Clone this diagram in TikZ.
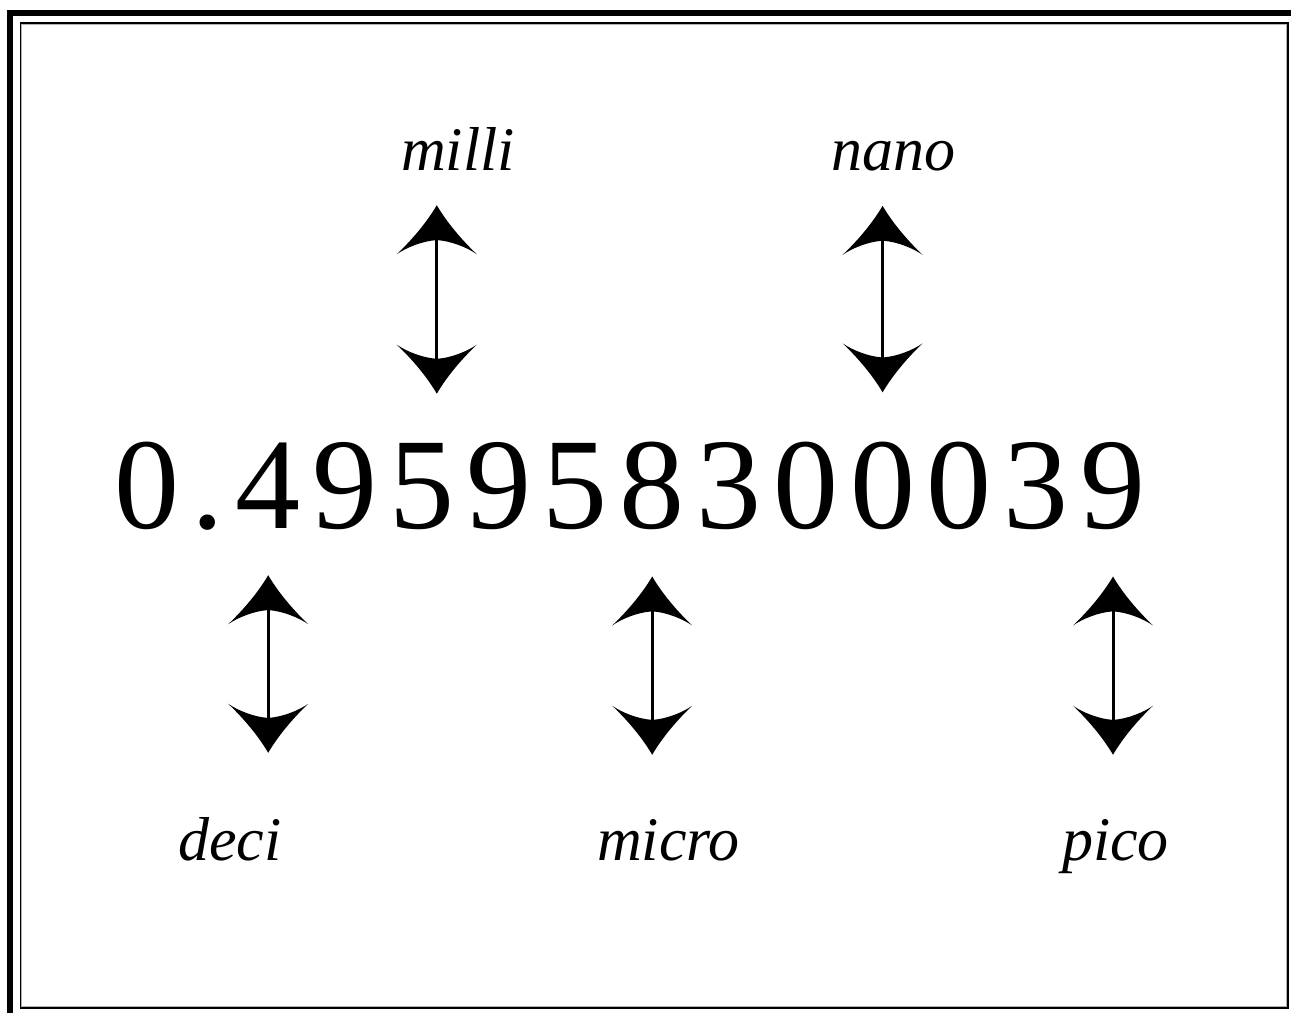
\documentclass[tikz,border=0pt]{standalone}
\usepackage{fontspec}
\setmainfont{Liberation Serif}
\usepackage{tikz}
\usetikzlibrary{positioning}
\usetikzlibrary{arrows.meta}

% curved filled arrow head
\pgfdeclarearrow{
  name = Swoop,
  setup code = {
    \pgfarrowssettipend{0pt}
    \pgfarrowssetlineend{-28pt}
    \pgfarrowssetbackend{-49pt}
  },
  drawing code = {
    \pgfpathmoveto{\pgfpointorigin}
    \pgfpathcurveto{\pgfpoint{-12pt}{7pt}}{\pgfpoint{-30pt}{20pt}}{\pgfpoint{-49pt}{40pt}}
    \pgfpathcurveto{\pgfpoint{-42pt}{30pt}}{\pgfpoint{-36pt}{14pt}}{\pgfpoint{-35pt}{1.5pt}}
    \pgfpathlineto{\pgfpoint{-35pt}{-1.5pt}}
    \pgfpathcurveto{\pgfpoint{-36pt}{-14pt}}{\pgfpoint{-42pt}{-30pt}}{\pgfpoint{-49pt}{-40pt}}
    \pgfpathcurveto{\pgfpoint{-30pt}{-20pt}}{\pgfpoint{-12pt}{-7pt}}{\pgfpointorigin}
    \pgfpathclose
    \pgfusepathqfill
  }
}

\tikzset{digit/.style={anchor=base west,inner sep=0pt,font=\fontsize{130}{130}\selectfont}}
\tikzset{unitname/.style={anchor=base west,inner sep=0pt,font=\fontsize{62}{62}\selectfont\itshape}}
\tikzset{updown/.style={{Swoop}-{Swoop},line width=3pt}}

\begin{document}
\begin{tikzpicture}[x=1pt,y=-1pt]
                \useasboundingbox (0,0) rectangle (1291,1013);
                % frame
                \fill (7,10) rectangle (13,1013);
                \fill (7,10) rectangle (1291,16);
                \draw[gray!60,line width=1pt] (21.8,24.2) rectangle (1286.8,1006.8);
                \draw[line width=1.2pt] (20.6,23) rectangle (1288,1008);
                % the number
                \node[digit] (d0) at (114.4,528) {0};
                \node[digit] (dot) at (191.2,528) {.};
                \foreach \c [count=\k from 1] in {4,9,5,9,5,8,3,0,0,0,3,9}
                    \node[digit] (d\k) at ({235.5+(\k-1)*76.8},528) {\c};
                % names above
                \node[unitname] (milli) at (401,170) {milli};
                \node[unitname] (nano) at (831,170) {nano};
                    \coordinate (milli-x) at ([xshift=15pt]d3.north);
                    \draw[updown,shorten <=35pt,shorten >=49pt] (milli-x |- milli.south) -- (milli-x);
                    \draw[updown,shorten <=35pt,shorten >=49pt] (d9.north |- nano.south) -- (d9.north);
                % names below
                \node[unitname] (deci) at (178,860) {deci};
                \node[unitname] (micro) at (597,860) {micro};
                \node[unitname] (pico) at (1062,860) {pico};
                    \draw[updown,shorten <=47pt,shorten >=64pt] (d1.south) -- (d1.south |- deci.north);
                    \draw[updown,shorten <=47pt,shorten >=64pt] (d6.south) -- (d6.south |- micro.north);
                    \draw[updown,shorten <=47pt,shorten >=64pt] (d12.south) -- (d12.south |- pico.north);
            \end{tikzpicture}
\end{document}
